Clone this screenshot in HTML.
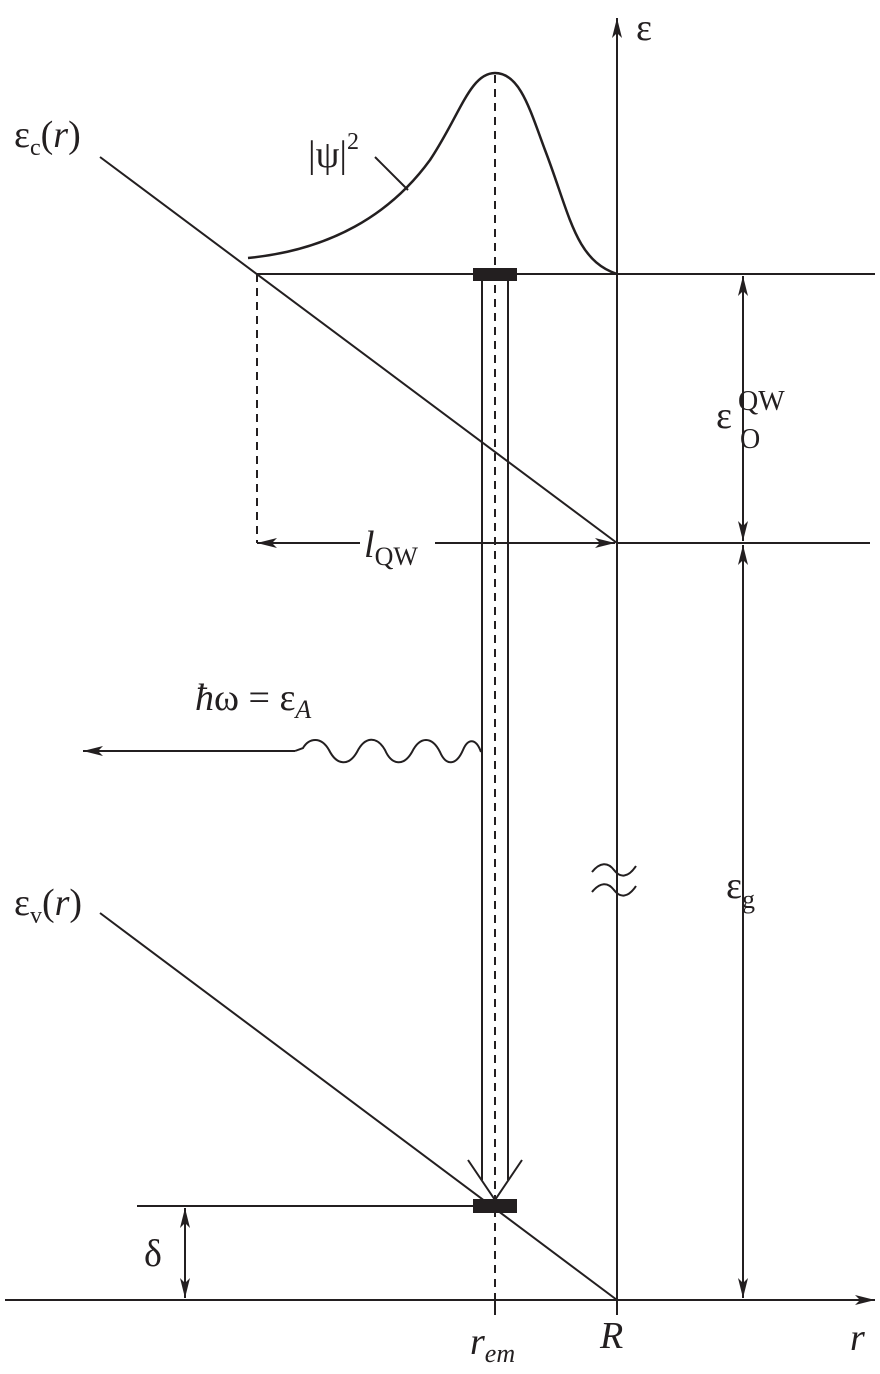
<!DOCTYPE html>
<html><head><meta charset="utf-8"><style>
html,body{margin:0;padding:0;background:#fff}
svg{display:block}
text{font-family:"Liberation Serif",serif;fill:#231f20}
</style></head><body>
<svg width="880" height="1374" viewBox="0 0 880 1374" xmlns="http://www.w3.org/2000/svg">
<defs>
<marker id="a" viewBox="0 0 20 10" refX="20" refY="5" markerWidth="20" markerHeight="10" markerUnits="userSpaceOnUse" orient="auto-start-reverse">
<path d="M0,0 L20,5 L0,10 L5,5 Z" fill="#231f20"/></marker>
</defs>
<g stroke="#231f20" stroke-width="2" fill="none">
<line x1="617" y1="1315" x2="617" y2="18" marker-end="url(#a)"/>
<line x1="5" y1="1300" x2="875" y2="1300" marker-end="url(#a)"/>
<line x1="257" y1="274" x2="875" y2="274"/>
<line x1="617" y1="543" x2="870" y2="543"/>
<line x1="137" y1="1206" x2="495" y2="1206"/>
<line x1="100" y1="157" x2="617" y2="543"/>
<line x1="100" y1="913" x2="617" y2="1300"/>
<line x1="495" y1="75" x2="495" y2="1315" stroke-dasharray="8,6"/>
<line x1="257" y1="274" x2="257" y2="543" stroke-dasharray="8,6"/>
<line x1="495" y1="1300" x2="495" y2="1315"/>
<line x1="257" y1="543" x2="360" y2="543" marker-start="url(#a)"/>
<line x1="435" y1="543" x2="615" y2="543" marker-end="url(#a)"/>
<line x1="482" y1="281" x2="482" y2="1180"/>
<line x1="508" y1="281" x2="508" y2="1180"/>
<polyline points="468,1160 495,1200 522,1160"/>
<line x1="743" y1="276" x2="743" y2="541" marker-start="url(#a)" marker-end="url(#a)"/>
<line x1="743" y1="545" x2="743" y2="1298" marker-start="url(#a)" marker-end="url(#a)"/>
<line x1="185" y1="1208" x2="185" y2="1298" marker-start="url(#a)" marker-end="url(#a)"/>
<path d="M481,752 C476,738 468,738 463,750 C456,766 446,766 440,752 C432,736 420,736 412,752 C404,766 392,766 385,750 C377,736 365,736 357,752 C349,766 337,766 329,750 C321,736 309,738 303,748 L295,751"/>
<line x1="295" y1="751" x2="83" y2="751" marker-end="url(#a)"/>
<path d="M248,258 C330,250 390,215 430,160 C460,115 470,73 495,73 C520,73 530,110 545,150 C570,215 575,260 617,274" stroke-width="2.5"/>
<line x1="375" y1="157" x2="408" y2="190"/>
<path d="M592,872 C600,862 608,862 614,870 C620,878 628,878 636,866 M592,892 C600,882 608,882 614,890 C620,898 628,898 636,886" stroke-width="2"/>
</g>
<rect x="473" y="268" width="44" height="13" fill="#231f20"/>
<rect x="473" y="1199" width="44" height="14" fill="#231f20"/>
<g font-size="38">
<text x="636" y="40">ε</text>
<text x="850" y="1350" font-style="italic">r</text>
<text x="600" y="1348" font-style="italic">R</text>
<text x="470" y="1354" font-style="italic">r<tspan font-size="26" dy="8">em</tspan></text>
<text x="14" y="147">ε<tspan font-size="24" dy="8">c</tspan><tspan dy="-8">(</tspan><tspan font-style="italic">r</tspan>)</text>
<text x="14" y="915">ε<tspan font-size="24" dy="8">v</tspan><tspan dy="-8">(</tspan><tspan font-style="italic">r</tspan>)</text>
<text x="308" y="167">|ψ|<tspan font-size="24" dy="-18">2</tspan></text>
<text x="195" y="710"><tspan font-style="italic">ħ</tspan>ω = ε<tspan font-size="26" dy="8" font-style="italic">A</tspan></text>
<text x="716" y="428">ε</text>
<text x="738" y="410" font-size="28">QW</text>
<text x="740" y="448" font-size="28">O</text>
<text x="726" y="898">ε<tspan font-size="26" dy="10">g</tspan></text>
<text x="144" y="1266">δ</text>
<text x="364" y="557" font-style="italic">l<tspan font-size="26" dy="8" font-style="normal">QW</tspan></text>
</g>
</svg>
</body></html>
